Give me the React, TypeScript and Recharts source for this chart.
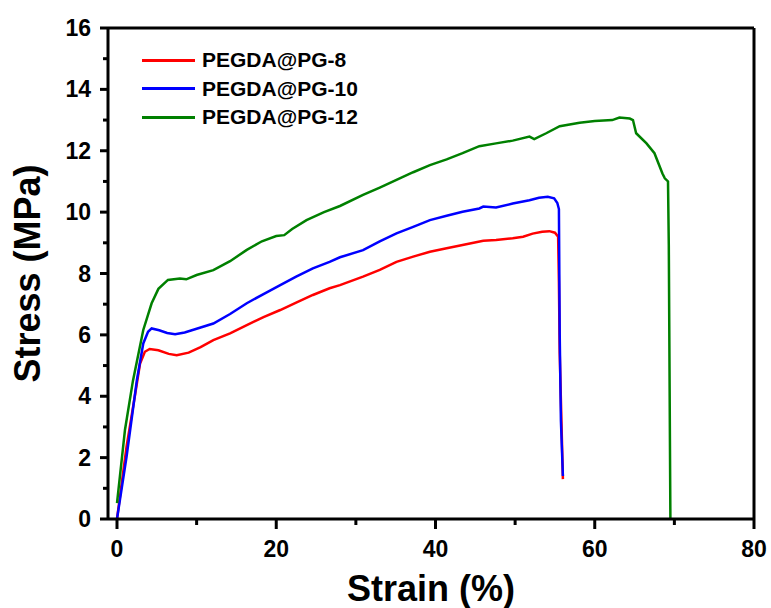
import { LineChart, Line, XAxis, YAxis, ReferenceLine } from 'recharts'

const FONT = '"Liberation Sans", Arial, sans-serif'

// strain (%) / stress (MPa)
const pg8Strain = [0, 1.2, 2.3, 2.9, 3.5, 4.1, 5.2, 6.5, 7.5, 9.0, 10.5, 12.1, 14.2, 16.3, 18.4, 20.5, 22.5, 24.6, 26.7, 28.0, 30.9, 33.0, 35.1, 37.2, 39.3, 41.4, 43.4, 46.0, 47.6, 49.7, 51.0, 52.2, 53.4, 54.3, 55.0, 55.4, 55.5, 55.6, 56.0]
const pg8Stress = [0, 2.36, 4.1, 5.07, 5.45, 5.54, 5.5, 5.38, 5.34, 5.42, 5.6, 5.83, 6.05, 6.32, 6.58, 6.81, 7.05, 7.3, 7.52, 7.62, 7.9, 8.12, 8.38, 8.55, 8.71, 8.82, 8.93, 9.07, 9.09, 9.15, 9.2, 9.3, 9.36, 9.38, 9.33, 9.2, 7.7, 5.4, 1.3]

const pg10Strain = [0, 1.2, 2.5, 3.3, 3.9, 4.35, 5.3, 6.3, 7.3, 8.5, 10.0, 12.1, 14.2, 16.3, 18.4, 20.5, 22.5, 24.6, 26.7, 28.0, 30.9, 33.0, 35.1, 37.2, 39.3, 41.4, 43.4, 45.5, 46.0, 47.6, 49.7, 51.8, 53.0, 54.1, 54.9, 55.3, 55.5, 55.6, 55.75, 56.0]
const pg10Stress = [0, 2.03, 4.53, 5.72, 6.1, 6.21, 6.15, 6.06, 6.02, 6.08, 6.2, 6.37, 6.68, 7.03, 7.33, 7.62, 7.9, 8.17, 8.38, 8.53, 8.76, 9.05, 9.31, 9.52, 9.74, 9.88, 10.01, 10.12, 10.18, 10.15, 10.28, 10.39, 10.47, 10.5, 10.45, 10.3, 10.1, 6.0, 3.2, 1.4]

const pg12Strain = [0, 1.0, 2.0, 3.3, 4.35, 5.2, 6.4, 7.9, 8.7, 10.0, 12.1, 14.2, 16.3, 18.2, 20.0, 21.0, 22.0, 23.8, 26.0, 28.0, 30.9, 33.0, 35.1, 37.2, 39.3, 41.4, 43.4, 45.5, 47.6, 49.7, 51.8, 52.4, 53.9, 55.6, 58.1, 60.0, 62.2, 63.1, 64.4, 64.8, 65.2, 66.5, 67.5, 68.5, 68.8, 69.2, 69.3, 69.5]
const pg12Stress = [0.52, 2.9, 4.5, 6.16, 7.03, 7.5, 7.79, 7.84, 7.81, 7.95, 8.11, 8.4, 8.77, 9.05, 9.22, 9.25, 9.45, 9.74, 10.0, 10.2, 10.56, 10.8, 11.05, 11.3, 11.53, 11.72, 11.92, 12.15, 12.24, 12.33, 12.46, 12.38, 12.57, 12.8, 12.91, 12.97, 13.0, 13.08, 13.05, 13.0, 12.57, 12.24, 11.92, 11.26, 11.1, 11.0, 8.9, 0]

const xTicks = [0, 10, 20, 30, 40, 50, 60, 70, 80]
const yTicks = [0, 1, 2, 3, 4, 5, 6, 7, 8, 9, 10, 11, 12, 13, 14, 15, 16]

const toPoints = (xs: number[], ys: number[]) => xs.map((x, i) => ({ x, y: ys[i] }))

const series = [
  { name: 'PEGDA@PG-8', color: '#ff0000', data: toPoints(pg8Strain, pg8Stress) },
  { name: 'PEGDA@PG-10', color: '#0000ff', data: toPoints(pg10Strain, pg10Stress) },
  { name: 'PEGDA@PG-12', color: '#008000', data: toPoints(pg12Strain, pg12Stress) },
]

function XTick({ x, y, payload }: any) {
  const major = payload.value % 20 === 0
  return (
    <g>
      <line x1={x} x2={x} y1={y} y2={y + (major ? 10 : 6)} stroke="#000" strokeWidth={3} />
      {major && (
        <text x={x} y={y + 38} textAnchor="middle" fontFamily={FONT} fontWeight="bold" fontSize={23} fill="#000">
          {payload.value}
        </text>
      )}
    </g>
  )
}

function YTick({ x, y, payload }: any) {
  const major = payload.value % 2 === 0
  return (
    <g>
      <line x1={x - (major ? 8 : 5)} x2={x} y1={y} y2={y} stroke="#000" strokeWidth={3} />
      {major && (
        <text x={x - 17} y={y + 8} textAnchor="end" fontFamily={FONT} fontWeight="bold" fontSize={23} fill="#000">
          {payload.value}
        </text>
      )}
    </g>
  )
}

function XTitle({ viewBox }: any) {
  return (
    <text x={viewBox.x + viewBox.width / 2} y={viewBox.y + 82} textAnchor="middle" fontFamily={FONT} fontWeight="bold" fontSize={36} fill="#000">
      Strain (%)
    </text>
  )
}

function YTitle({ viewBox }: any) {
  const cy = viewBox.y + viewBox.height / 2
  return (
    <text x={40} y={cy} transform={`rotate(-90 40 ${cy})`} textAnchor="middle" fontFamily={FONT} fontWeight="bold" fontSize={36} fill="#000">
      Stress (MPa)
    </text>
  )
}

function LegendBox() {
  return (
    <div style={{ position: 'absolute', left: 142, top: 46, fontFamily: FONT, fontWeight: 'bold', fontSize: 21, color: '#000' }}>
      {series.map((s) => (
        <div key={s.name} style={{ display: 'flex', alignItems: 'center', height: 28.5 }}>
          <div style={{ width: 53, height: 3, background: s.color, marginRight: 7 }} />
          <span style={{ lineHeight: '28px' }}>{s.name}</span>
        </div>
      ))}
    </div>
  )
}

export default function App() {
  return (
    <div style={{ position: 'absolute', left: 0, top: 0, width: 771, height: 608, background: '#fff' }}>
      <LineChart width={771} height={608} margin={{ top: 28, right: 17, bottom: 0, left: 0 }}>
        <XAxis
          type="number"
          dataKey="x"
          domain={[-1.13, 80]}
          allowDataOverflow
          ticks={xTicks}
          interval={0}
          height={89}
          tickSize={0}
          tickMargin={0}
          tickLine={false}
          tick={<XTick />}
          axisLine={{ stroke: '#000', strokeWidth: 3 }}
          label={<XTitle />}
        />
        <YAxis
          type="number"
          domain={[0, 16]}
          ticks={yTicks}
          interval={0}
          width={108}
          tickSize={0}
          tickMargin={0}
          tickLine={false}
          tick={<YTick />}
          axisLine={{ stroke: '#000', strokeWidth: 3 }}
          label={<YTitle />}
        />
        <ReferenceLine y={16} stroke="#000" strokeWidth={3} />
        <ReferenceLine x={80} stroke="#000" strokeWidth={3} />
        {series.map((s) => (
          <Line
            key={s.name}
            data={s.data}
            dataKey="y"
            name={s.name}
            type="linear"
            stroke={s.color}
            strokeWidth={2.5}
            dot={false}
            isAnimationActive={false}
          />
        ))}
      </LineChart>
      <LegendBox />
    </div>
  )
}
